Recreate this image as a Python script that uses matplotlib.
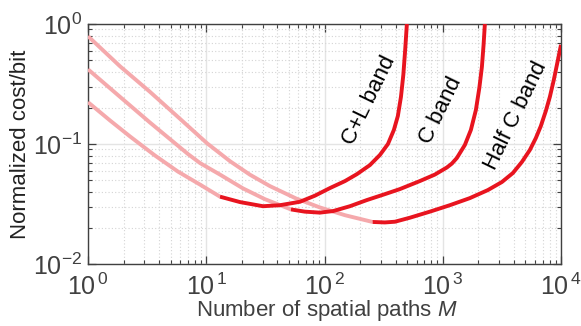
import numpy as np
import matplotlib.pyplot as plt

plt.rcParams['font.family'] = ['Liberation Sans', 'DejaVu Sans']
plt.rcParams['mathtext.fontset'] = 'custom'
plt.rcParams['mathtext.rm'] = 'Liberation Sans'
plt.rcParams['mathtext.it'] = 'Liberation Sans:italic'

# C+L band
m_cl_light = [1, 1.535, 2.265, 3.68, 5.76, 8.85, 13.06]
y_cl_light = [0.223, 0.157, 0.1156, 0.0802, 0.0589, 0.0459, 0.0364]
m_cl_dark = [13.06, 19.3, 30.2, 42.0, 62.0, 83, 111, 149, 188, 242, 294, 344, 386, 417, 443,
             464, 481, 497]
y_cl_dark = [0.0364, 0.0328, 0.0303, 0.0309, 0.0330, 0.0371, 0.0429, 0.0491, 0.0561, 0.0667,
             0.0810, 0.100, 0.131, 0.171, 0.247, 0.377, 0.609, 1.0]

# C band
m_c_light = [1, 1.865, 3.34, 7.0, 8.85, 13.06, 20.4, 31.3, 52.0]
y_c_light = [0.419, 0.247, 0.151, 0.0825, 0.0694, 0.0556, 0.0427, 0.0347, 0.0285]
m_c_dark = [52.0, 68.2, 91.4, 118, 164, 228, 324, 434, 640, 857, 1083, 1194, 1315, 1538, 1729,
            1906, 2039, 2143, 2214, 2270]
y_c_dark = [0.0285, 0.0273, 0.0268, 0.0276, 0.0303, 0.0341, 0.0382, 0.0421, 0.0491, 0.0556,
            0.0637, 0.0687, 0.0764, 0.0982, 0.131, 0.192, 0.294, 0.440, 0.671, 1.0]

# Half C band
m_h_light = [1, 1.865, 3.34, 6.0, 10.15, 15.9, 23.4, 34.5, 57.3, 91.4, 149, 255]
y_h_light = [0.791, 0.444, 0.272, 0.162, 0.1014, 0.0718, 0.0555, 0.0446, 0.0352, 0.0296,
             0.0255, 0.0224]
m_h_dark = [255, 324, 394, 527, 778, 1148, 1694, 2406, 3162, 3917, 4667, 5450, 6124, 6748,
            7447, 8047, 8696, 9308, 10000]
y_h_dark = [0.0224, 0.0222, 0.0225, 0.0243, 0.0273, 0.0309, 0.0354, 0.0413, 0.0482, 0.0573,
            0.0708, 0.0891, 0.112, 0.141, 0.189, 0.247, 0.343, 0.475, 0.671]

band_labels = ['C+L band', 'C band', 'Half C band']
label_m = [240, 964, 4150]
label_y = [0.233, 0.192, 0.171]

light = '#F5A9AC'
dark = '#E8141F'
gray = '#404040'

fig = plt.figure(figsize=(5.81, 3.26), dpi=100)
ax = fig.add_axes([0.1515, 0.1902, 0.8141, 0.7362])

lw = 2.8
for ml, yl, md, yd in [(m_cl_light, y_cl_light, m_cl_dark, y_cl_dark),
                       (m_c_light, y_c_light, m_c_dark, y_c_dark),
                       (m_h_light, y_h_light, m_h_dark, y_h_dark)]:
    ax.plot(ml, yl, color=light, lw=lw, solid_capstyle='butt', solid_joinstyle='round', zorder=3)
    ax.plot(md, yd, color=dark, lw=lw, solid_capstyle='butt', solid_joinstyle='round', zorder=4)

for t, xm, ym in zip(band_labels, label_m, label_y):
    ax.text(xm, ym, t, rotation=64, ha='center', va='center', fontsize=16, color='black', zorder=5)

ax.set_xscale('log')
ax.set_yscale('log')
ax.set_xlim(1, 1e4)
ax.set_ylim(1e-2, 1)

ax.set_xticks([1, 10, 100, 1000, 10000])
ax.set_xticklabels([r'$10^{\,%d}$' % i for i in range(5)])
ax.set_yticks([0.01, 0.1, 1])
ax.set_yticklabels([r'$10^{%d}$' % i for i in [-2, -1, 0]])

ax.grid(True, which='major', color='#e4e4e4', lw=1.0, ls='-')
ax.grid(True, which='minor', color='#d4d4d4', lw=0.8, ls=(0, (1, 2)))
ax.set_axisbelow(True)

ax.tick_params(which='both', direction='in', top=True, right=True, colors=gray, labelcolor=gray)
ax.tick_params(which='major', length=6, width=0.9, labelsize=18, pad=4)
ax.tick_params(which='minor', length=3, width=0.8)
ax.tick_params(axis='x', which='major', pad=7)
for s in ax.spines.values():
    s.set_color(gray)
    s.set_linewidth(1.0)

ax.set_xlabel(r'Number of spatial paths $\mathit{M}$', fontsize=16, color=gray)
ax.xaxis.set_label_coords(0.505, -0.14)
ax.set_ylabel('Normalized cost/bit', fontsize=16, color='#222222', labelpad=2)

fig.savefig('out.png', dpi=100)
